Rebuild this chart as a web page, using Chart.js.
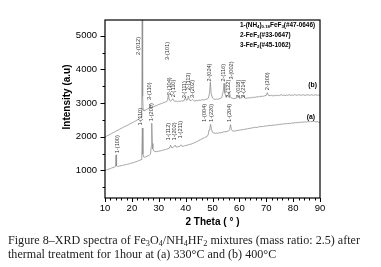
<!DOCTYPE html>
<html><head><meta charset="utf-8">
<script src="https://cdn.jsdelivr.net/npm/chart.js@4/dist/chart.umd.min.js"></script>
<style>html,body{margin:0;padding:0;background:#fff;}canvas{display:block;}</style>
</head><body>
<canvas id="c" width="381" height="267"></canvas>
<script>
// ---- data ----
const xTicks = [10, 20, 30, 40, 50, 60, 70, 80, 90];
const yTicks = [1000, 2000, 3000, 4000, 5000];

const thetaB = [10,10.5,11,11.5,12,12.5,13,13.5,14,14.5,15,15.5,16,16.5,17,17.5,18,18.5,19,19.5,20,20.5,21,21.5,22,22.5,23,23.4,23.7,23.85,24.0,24.2,24.5,25,25.5,26,26.4,26.7,27.0,27.5,28,28.5,29,29.5,30,30.5,31,31.5,32,32.5,33,33.3,33.6,33.9,34.3,34.8,35.2,35.6,36,36.5,37,37.5,38,38.5,39,39.5,39.9,40.3,40.7,41.0,41.4,42,42.5,43,43.5,44,44.5,45,45.5,46,46.5,47,47.5,48,48.5,48.9,49.2,49.5,50,50.5,51,51.5,52,52.5,53,53.5,54.0,54.3,54.6,55,55.5,56.0,56.3,56.6,57,57.5,58,58.5,59,59.6,60,60.5,61.0,61.5,62,62.5,63,63.5,64,64.5,65,65.5,66,66.5,67,67.5,68,68.5,69,69.5,70,70.4,70.8,71.5,72,72.5,73,73.5,74,74.5,75,75.5,76,76.5,77,77.5,78,78.5,79,79.5,80,80.5,81,81.5,82,82.5,83,83.5,84,84.5,85,85.5,86,86.5,87,87.5,88,88.5,89,89.5,90];
const intensityB = [2000,2015,2040,2050,2080,2095,2120,2140,2160,2185,2200,2225,2250,2265,2290,2310,2330,2345,2370,2390,2410,2430,2450,2475,2500,2520,2550,2580,2700,5900,3200,2800,2770,2790,2810,2830,2850,2960,2870,2880,2890,2910,2920,2940,2960,2970,2990,3000,3020,3030,3050,3090,3260,3090,3060,3080,3130,3070,3050,3060,3040,3060,3050,3070,3060,3080,3170,3080,3100,3210,3090,3070,3110,3070,3060,3080,3070,3090,3080,3100,3090,3100,3110,3120,3150,3300,3620,3280,3150,3120,3110,3120,3110,3130,3140,3180,3350,3590,3300,3170,3200,3260,3330,3200,3150,3140,3130,3140,3150,3220,3140,3150,3160,3230,3150,3140,3150,3160,3150,3170,3160,3180,3170,3190,3180,3200,3190,3210,3200,3220,3230,3310,3230,3220,3230,3210,3230,3220,3240,3220,3230,3250,3230,3240,3220,3240,3230,3250,3230,3240,3230,3250,3240,3230,3250,3240,3230,3250,3240,3230,3240,3250,3230,3240,3250,3230,3240,3250,3230,3240,3230];

const thetaA = [10,10.5,11,11.5,12,12.5,13,13.5,13.9,14.1,14.3,14.7,15,15.5,16,16.5,17,17.5,18,18.5,19,19.5,20,20.5,21,21.5,22,22.5,23,23.4,23.7,23.9,24.1,24.4,24.8,25.2,25.6,26,26.5,26.9,27.2,27.4,27.6,27.8,28.1,28.5,29,29.5,30,30.5,31,31.5,32,32.5,33,33.5,34,34.4,34.8,35.2,35.6,36.1,36.5,37,37.5,38,38.4,38.8,39.2,39.6,40,40.5,41,41.5,42,42.5,43,43.5,44,44.5,45,45.5,46,46.5,47,47.5,48,48.4,48.7,49.0,49.3,49.6,50,50.5,51,51.5,52,52.5,53,53.5,54,54.5,55,55.5,56,56.4,56.7,57.0,57.4,58,58.5,59,59.5,60,60.5,61,61.5,62,62.5,63,63.5,64,64.5,65,65.5,66,66.5,67,67.5,68,68.5,69,69.5,70,70.5,71,71.5,72,72.5,73,73.5,74,74.5,75,75.5,76,76.5,77,77.5,78,78.5,79,79.5,80,80.5,81,81.5,82,82.5,83,83.5,84,84.5,85,85.5,86,86.5,87,87.5,88,88.5,89,89.5,90];
const intensityA = [1000,1010,1025,1040,1055,1070,1085,1095,1110,1460,1130,1110,1120,1130,1140,1145,1160,1165,1175,1185,1195,1210,1215,1230,1240,1255,1270,1285,1300,1320,1420,2260,1480,1400,1390,1400,1420,1430,1450,1480,1700,2400,1800,1640,1580,1560,1555,1560,1570,1575,1590,1595,1610,1620,1630,1645,1660,1750,1670,1680,1700,1750,1690,1700,1710,1720,1760,1710,1720,1730,1740,1745,1760,1770,1780,1795,1810,1830,1850,1870,1890,1910,1930,1950,1970,1990,2010,2060,2200,2260,2370,2220,2130,2110,2100,2110,2100,2120,2110,2130,2140,2150,2145,2160,2170,2220,2360,2220,2170,2165,2175,2180,2190,2195,2200,2210,2215,2220,2230,2235,2245,2250,2260,2265,2275,2280,2270,2290,2300,2295,2310,2305,2320,2315,2330,2325,2340,2335,2345,2340,2355,2350,2365,2360,2375,2370,2385,2380,2395,2385,2400,2395,2410,2400,2420,2410,2425,2420,2430,2425,2440,2430,2445,2435,2450,2440,2455,2445,2460,2450,2440,2450,2430,2420];

const peakLabelsB = ['2-(012)','3-(110)','3-(101)','2-(104)','2-(110)','3-(111)','2-(113)','3-(202)','2-(024)','2-(116)','3-(002)','2-(122)','2-(018)','2-(214)','2-(300)'];
const peakThetaB  = [22.4, 26.5, 33.4, 33.8, 35.6, 39.5, 41.0, 42.5, 49.0, 54.0, 56.9, 55.9, 59.6, 61.5, 70.4];
const peakBaseB   = [4430, 3090, 4280, 3230, 3170, 3140, 3380, 3150, 3640, 3640, 3700, 3160, 3160, 3160, 3380];

const peakLabelsA = ['1-(100)','1-(110)','1-(200)','1-(112)','1-(202)','1-(211)','1-(004)','1-(220)','1-(204)'];
const peakThetaA  = [14.6, 23.3, 27.1, 33.5, 35.8, 38.2, 47.0, 49.6, 56.3];
const peakBaseA   = [1510, 2330, 2460, 1890, 1890, 1950, 2440, 2440, 2440];

const seriesNames = ['(a)', '(b)'];
const legendLines = [
  [['1-(NH',0],['4',1],[')',0],['0.18',1],['FeF',0],['3',1],['(#47-0646)',0]],
  [['2-FeF',0],['3',1],['(#33-0647)',0]],
  [['3-FeF',0],['2',1],['(#45-1062)',0]]
];
const captionLines = [
  [['Figure 8–XRD spectra of Fe',0],['3',1],['O',0],['4',1],['/NH',0],['4',1],['HF',0],['2',1],[' mixtures (mass ratio: 2.5) after',0]],
  [['thermal treatment for 1hour at (a) 330°C and (b) 400°C',0]]
];

// ---- drawing ----
const SANS = '"Liberation Sans", Arial, sans-serif';
function richWidth(ctx, segs, size, fam, weight){
  let w=0; for(const [t,s] of segs){ctx.font=`${weight} ${s?size*0.68:size}px ${fam}`; w+=ctx.measureText(t).width;} return w;
}
function drawRich(ctx, segs, x, y, size, fam, weight){
  for(const [t,s] of segs){
    const fs = s?size*0.68:size;
    ctx.font=`${weight} ${fs}px ${fam}`;
    ctx.fillText(t, x, s? y+size*0.22 : y);
    x += ctx.measureText(t).width;
  }
}

const overlay = {
  id:'overlay',
  afterDraw(chart){
    const {ctx, chartArea:a, scales:{x,y}} = chart;
    ctx.save();
    ctx.strokeStyle='#000';
    ctx.lineWidth=1.2;
    ctx.strokeRect(a.left, a.top, a.right-a.left, a.bottom-a.top);
    ctx.lineWidth=1;
    ctx.beginPath();
    for(let v=10; v<=90; v+=2){
      const px=Math.round(x.getPixelForValue(v))+0.5;
      const len = v%10===0?4:2.5;
      ctx.moveTo(px,a.bottom); ctx.lineTo(px,a.bottom+len);
    }
    for(let v=500; v<=5000; v+=500){
      const py=Math.round(y.getPixelForValue(v))+0.5;
      const len = v%1000===0?4.5:2.5;
      ctx.moveTo(a.left,py); ctx.lineTo(a.left-len,py);
    }
    ctx.stroke();

    // peak labels
    ctx.fillStyle='#333';
    ctx.font=`5.6px ${SANS}`;
    ctx.textBaseline='middle'; ctx.textAlign='left';
    const putLabels=(names,th,base)=>{
      names.forEach((n,i)=>{
        const px=x.getPixelForValue(th[i]), py=y.getPixelForValue(base[i]);
        ctx.save(); ctx.translate(px,py); ctx.rotate(-Math.PI/2); ctx.fillText(n,0,0); ctx.restore();
      });
    };
    putLabels(peakLabelsB, peakThetaB, peakBaseB);
    putLabels(peakLabelsA, peakThetaA, peakBaseA);

    // series tags
    ctx.fillStyle='#000';
    ctx.font=`bold 6.8px ${SANS}`;
    ctx.textAlign='right';
    ctx.fillText(seriesNames[1], a.right-3, y.getPixelForValue(3530));
    ctx.fillText(seriesNames[0], a.right-5, y.getPixelForValue(2590));

    // legend
    ctx.textAlign='left'; ctx.textBaseline='middle';
    legendLines.forEach((segs,i)=>{
      drawRich(ctx, segs, a.left+135, a.top+5+i*10, 6.4, SANS, 'bold');
    });

    // y title
    ctx.save();
    ctx.font=`bold 10px ${SANS}`;
    ctx.textAlign='center'; ctx.textBaseline='middle';
    ctx.translate(67, 97); ctx.rotate(-Math.PI/2);
    ctx.fillText('Intensity (a.u)',0,0);
    ctx.restore();

    // caption
    const CF='"Liberation Serif", "Times New Roman", serif';
    ctx.fillStyle='#222';
    ctx.textBaseline='alphabetic'; ctx.textAlign='left';
    const w1 = richWidth(ctx, captionLines[0], 11.5, CF, 'normal');
    const sx = 352 / w1;
    captionLines.forEach((segs,i)=>{
      ctx.save(); ctx.translate(8, 243.5+i*14); ctx.scale(sx,1);
      drawRich(ctx, segs, 0, 0, 11.5, CF, 'normal');
      ctx.restore();
    });
    ctx.restore();
  }
};

const toPts=(xs,ys)=>xs.map((v,i)=>({x:v,y:ys[i]}));

new Chart(document.getElementById('c'), {
  type:'line',
  data:{datasets:[
    {label:seriesNames[0], data:toPts(thetaA,intensityA), borderColor:'#8e8e8e', borderWidth:0.8, pointRadius:0, tension:0},
    {label:seriesNames[1], data:toPts(thetaB,intensityB), borderColor:'#8e8e8e', borderWidth:0.8, pointRadius:0, tension:0}
  ]},
  options:{
    responsive:false, animation:false, devicePixelRatio:1,
    layout:{padding:{left:55, right:61, top:20, bottom:39}},
    plugins:{legend:{display:false}, tooltip:{enabled:false}},
    scales:{
      x:{type:'linear', min:10, max:90,
         afterFit:s=>{s.height=30;},
         afterBuildTicks:s=>{s.ticks=xTicks.map(v=>({value:v}));},
         grid:{display:false, drawTicks:false}, border:{display:false},
         ticks:{font:{family:SANS,size:9.5}, color:'#000', padding:5, maxRotation:0, autoSkip:false, callback:v=>String(v)},
         title:{display:true, text:'2 Theta ( ° )', font:{family:SANS,size:10,weight:'bold'}, color:'#000', padding:{top:1,bottom:0}}
      },
      y:{type:'linear', min:178, max:5470,
         afterFit:s=>{s.width=50;},
         afterBuildTicks:s=>{s.ticks=yTicks.map(v=>({value:v}));},
         grid:{display:false, drawTicks:false}, border:{display:false},
         ticks:{font:{family:SANS,size:9.5}, color:'#000', padding:8, callback:v=>String(v)}
      }
    }
  },
  plugins:[overlay]
});
</script>
</body></html>
